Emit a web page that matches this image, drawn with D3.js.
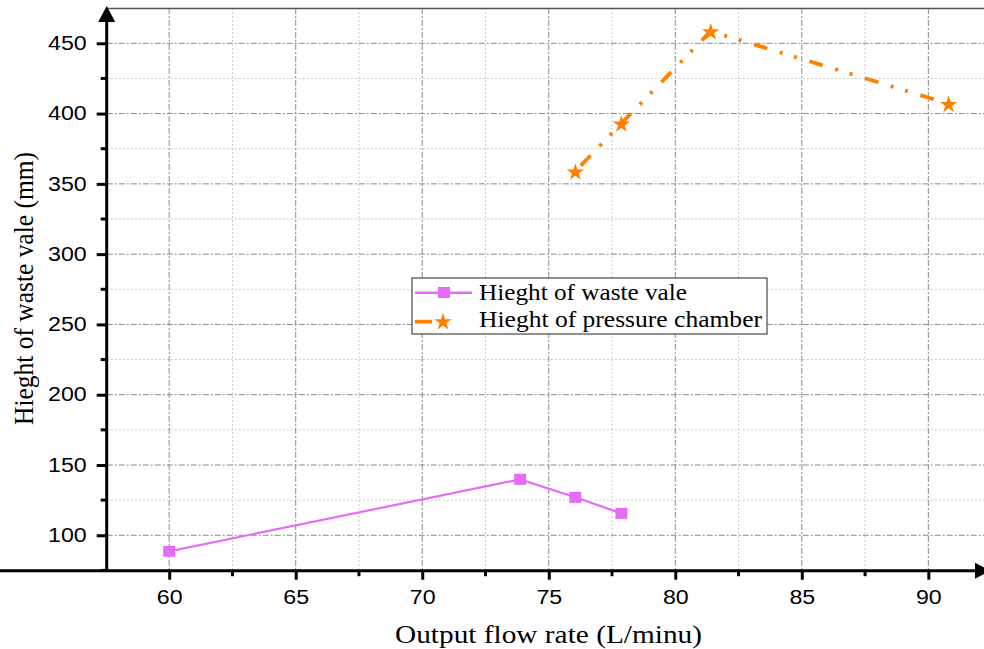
<!DOCTYPE html>
<html>
<head>
<meta charset="utf-8">
<script src="https://cdn.jsdelivr.net/npm/d3@7"></script>
<style>
  body { margin: 0; background: #fff; }
  svg { display: block; }
</style>
</head>
<body>
<svg width="984" height="649"></svg>
<script>
const wasteX = [60, 73.87, 76.05, 77.87];
const wasteY = [88.6, 139.8, 127, 115.6];
const chamberX = [76.05, 77.87, 81.4, 90.8];
const chamberY = [358.9, 393, 458.6, 407];
const xTicks = [60, 65, 70, 75, 80, 85, 90];
const yTicks = [100, 150, 200, 250, 300, 350, 400, 450];
const legendLabels = ["Hieght of waste vale", "Hieght of pressure chamber"];

const svg = d3.select("svg");
const serif = "'Liberation Serif', 'Times New Roman', serif";
const sans = "'Liberation Sans', Arial, sans-serif";

const x = d3.scaleLinear().domain([57.53, 92.2]).range([106.7, 984]);
const y = d3.scaleLinear().domain([74.8, 475.1]).range([570.7, 8]);

const xMinor = d3.range(57.5, 92.5, 2.5).filter(v => v > 57.53 && v % 5 !== 0);
const yMinor = d3.range(75, 475, 25).filter(v => v % 50 !== 0);

// grid
const grid = svg.append("g");
grid.selectAll(".xmin").data(xMinor).enter().append("line")
  .attr("x1", d => x(d)).attr("x2", d => x(d))
  .attr("y1", y(475.1)).attr("y2", y(74.8))
  .attr("stroke", "#c8c8c8").attr("stroke-width", 1).attr("stroke-dasharray", "2,2");
grid.selectAll(".ymin").data(yMinor).enter().append("line")
  .attr("x1", x(57.53)).attr("x2", 984)
  .attr("y1", d => y(d)).attr("y2", d => y(d))
  .attr("stroke", "#c8c8c8").attr("stroke-width", 1).attr("stroke-dasharray", "2,2");
grid.selectAll(".xmaj").data(xTicks).enter().append("line")
  .attr("x1", d => x(d)).attr("x2", d => x(d))
  .attr("y1", y(475.1)).attr("y2", y(74.8))
  .attr("stroke", "#8a8a8a").attr("stroke-width", 1).attr("stroke-dasharray", "6,2,2,2");
grid.selectAll(".ymaj").data(yTicks).enter().append("line")
  .attr("x1", x(57.53)).attr("x2", 984)
  .attr("y1", d => y(d)).attr("y2", d => y(d))
  .attr("stroke", "#8a8a8a").attr("stroke-width", 1).attr("stroke-dasharray", "6,2,2,2");

// top frame line
svg.append("line")
  .attr("x1", x(57.53)).attr("x2", 984).attr("y1", 8.5).attr("y2", 8.5)
  .attr("stroke", "#555").attr("stroke-width", 1.5);

// axes
const xAxis = svg.append("g").attr("transform", "translate(0," + y(74.8) + ")")
  .call(d3.axisBottom(x).tickValues(xTicks).tickSize(9).tickPadding(10).tickFormat(d3.format("d")));
const yAxis = svg.append("g").attr("transform", "translate(" + x(57.53) + ",0)")
  .call(d3.axisLeft(y).tickValues(yTicks).tickSize(10).tickPadding(10).tickFormat(d3.format("d")));
[xAxis, yAxis].forEach(a => {
  a.select(".domain").attr("stroke", "#000").attr("stroke-width", 3);
  a.selectAll(".tick line").attr("stroke", "#000").attr("stroke-width", 3);
  a.selectAll("text").attr("fill", "#000")
    .attr("textLength", d => String(d).length * 12.9)
    .attr("lengthAdjust", "spacingAndGlyphs")
    .style("font-family", sans).style("font-size", "19.5px");
});
xAxis.select(".domain").attr("d", "M0,0H984");
yAxis.select(".domain").attr("d", "M0,20V" + y(74.8));

// minor ticks
svg.append("g").selectAll("line").data(xMinor).enter().append("line")
  .attr("x1", d => x(d)).attr("x2", d => x(d))
  .attr("y1", y(74.8)).attr("y2", y(74.8) + 5.5)
  .attr("stroke", "#000").attr("stroke-width", 3);
svg.append("g").selectAll("line").data(yMinor).enter().append("line")
  .attr("x1", x(57.53) - 6).attr("x2", x(57.53))
  .attr("y1", d => y(d)).attr("y2", d => y(d))
  .attr("stroke", "#000").attr("stroke-width", 3);

// arrows
svg.append("path")
  .attr("d", `M${x(57.53) - 8.5},22 L${x(57.53)},6 L${x(57.53) + 8.5},22 Z`)
  .attr("fill", "#000");
svg.append("path")
  .attr("d", `M975,${y(74.8) - 8} L990,${y(74.8)} L975,${y(74.8) + 8} Z`)
  .attr("fill", "#000");

// series
const wastePts = wasteX.map((d, i) => [d, wasteY[i]]);
const chamberPts = chamberX.map((d, i) => [d, chamberY[i]]);
const line = d3.line().x(d => x(d[0])).y(d => y(d[1]));

const violet = "#e46cf6";
const orange = "#ff8000";
const chamberDash = "14,13,3,12,3,13";

svg.append("path").datum(wastePts)
  .attr("d", line).attr("fill", "none")
  .attr("stroke", violet).attr("stroke-width", 2.2);
svg.append("g").selectAll("rect").data(wastePts).enter().append("rect")
  .attr("x", d => x(d[0]) - 6).attr("y", d => y(d[1]) - 5.5)
  .attr("width", 12).attr("height", 11).attr("fill", violet);

svg.append("path").datum(chamberPts)
  .attr("d", line).attr("fill", "none")
  .attr("stroke", orange).attr("stroke-width", 3.8)
  .attr("stroke-dasharray", chamberDash).attr("stroke-dashoffset", -8);
const star = d3.symbol().type(d3.symbolStar).size(95);
svg.append("g").selectAll("path").data(chamberPts).enter().append("path")
  .attr("d", star)
  .attr("transform", d => `translate(${x(d[0])},${y(d[1]) + 1})`)
  .attr("fill", orange);

// legend
const lg = svg.append("g").attr("transform", "translate(412,278)");
lg.append("rect").attr("width", 355).attr("height", 56)
  .attr("fill", "#fff").attr("stroke", "#222").attr("stroke-width", 1);
lg.append("line").attr("x1", 3).attr("x2", 60).attr("y1", 14.7).attr("y2", 14.7)
  .attr("stroke", violet).attr("stroke-width", 2.5);
lg.append("rect").attr("x", 26).attr("y", 9).attr("width", 12).attr("height", 11).attr("fill", violet);
lg.append("line").attr("x1", 3).attr("x2", 50).attr("y1", 43.7).attr("y2", 43.7)
  .attr("stroke", orange).attr("stroke-width", 3.8).attr("stroke-dasharray", "17,30,3,40");
lg.append("path").attr("d", star).attr("transform", "translate(31,44)").attr("fill", orange);
lg.selectAll("text").data(legendLabels).enter().append("text")
  .attr("x", 67).attr("y", (d, i) => 22 + i * 27.3)
  .attr("textLength", (d, i) => [208, 283][i])
  .attr("lengthAdjust", "spacingAndGlyphs")
  .text(d => d)
  .style("font-family", serif).style("font-size", "22.6px")
  .attr("fill", "#000");

// axis titles
svg.append("text")
  .attr("x", 548.5).attr("y", 643).attr("text-anchor", "middle")
  .attr("textLength", 307).attr("lengthAdjust", "spacingAndGlyphs")
  .text("Output flow rate (L/minu)")
  .style("font-family", serif).style("font-size", "26px");
svg.append("text")
  .attr("transform", "translate(33,288.5) rotate(-90)").attr("text-anchor", "middle")
  .attr("textLength", 273).attr("lengthAdjust", "spacingAndGlyphs")
  .text("Hieght of waste vale (mm)")
  .style("font-family", serif).style("font-size", "26.5px");
</script>
</body>
</html>
